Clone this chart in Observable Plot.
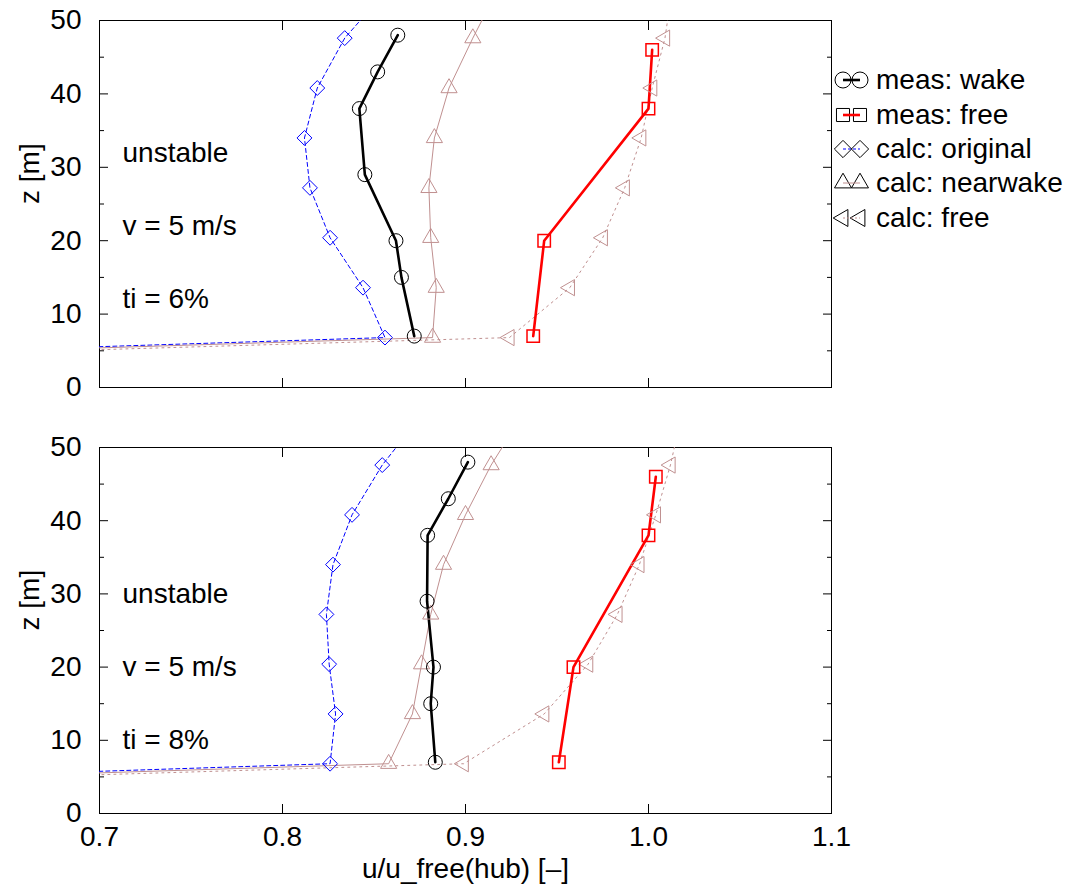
<!DOCTYPE html>
<html><head><meta charset="utf-8">
<script src="https://cdn.jsdelivr.net/npm/d3@7"></script>
<script src="https://cdn.jsdelivr.net/npm/@observablehq/plot@0.6"></script>
<style>
body{margin:0;background:#fff;}
#wrap{position:relative;width:1068px;height:892px;background:#fff;font-family:"Liberation Sans",Arial,sans-serif;overflow:hidden}
#top,#bot{position:absolute;left:0;}
#top{top:0}#bot{top:420px}
#legend{position:absolute;left:832px;top:63px;font-size:28px;color:#000}
.row{height:34.4px;display:flex;align-items:center;white-space:nowrap}
.row svg{flex:none;margin-right:4px}
</style></head><body><div id="wrap"><div id="top"></div><div id="bot"></div><div id="legend"></div></div>
<script>
// ---- data ----
const calcZ = [0, 6.8, 13.6, 20.4, 27.2, 34.0, 40.8, 47.6, 54.4];
const measWakeZ = [7, 15, 20, 29, 38, 43, 48];
const measFreeZ = [7, 20, 38, 46];

// panel 1: ti = 6%
const wake6  = [0.872, 0.865, 0.862, 0.845, 0.842, 0.852, 0.863];
const free6  = [0.937, 0.943, 1.000, 1.002];
const orig6  = [0, 0.856, 0.844, 0.826, 0.815, 0.812, 0.819, 0.834, 0.858];
const near6  = [0, 0.882, 0.884, 0.881, 0.880, 0.883, 0.891, 0.904, 0.918];
const cfree6 = [0, 0.924, 0.957, 0.975, 0.987, 0.996, 1.002, 1.009, 1.013];
const notes6 = ["unstable", "v = 5 m/s", "ti = 6%"];
const notesZ6 = [32, 22, 12];

// panel 2: ti = 8%
const wake8  = [0.8835, 0.881, 0.8825, 0.879, 0.8793, 0.8906, 0.9013];
const free8  = [0.951, 0.959, 1.000, 1.004];
const orig8  = [0, 0.826, 0.829, 0.8255, 0.824, 0.8276, 0.838, 0.8545, 0.876];
const near8  = [0, 0.858, 0.871, 0.876, 0.881, 0.888, 0.900, 0.914, 0.931];
const cfree8 = [0, 0.899, 0.943, 0.967, 0.983, 0.995, 1.004, 1.012, 1.018];
const notes8 = ["unstable", "v = 5 m/s", "ti = 8%"];
const notesZ8 = [30, 20, 10];

const xTicks = [0.7, 0.8, 0.9, 1.0, 1.1];
const yMajor = [0, 10, 20, 30, 40, 50];
const yMinor = [5, 15, 25, 35, 45];
const seriesNames = ["meas: wake", "meas: free", "calc: original", "calc: nearwake", "calc: free"];
const xLabel = "u/u_free(hub) [–]";
const yLabel = "z [m]";

// ---- styles ----
const BROWN = "#c09090";
const FONT = "Liberation Sans, Arial, sans-serif";

function rows(zs, xs) { return zs.map((z, i) => ({z, u: xs[i]})); }

function panel({wake, free, orig, near, cfree, notes, notesZ, showX, height, marginTop, marginBottom}) {
  const W = rows(measWakeZ, wake), F = rows(measFreeZ, free);
  const O = rows(calcZ, orig), N = rows(calcZ, near), C = rows(calcZ, cfree);
  const tickOnly = {fill: "none", label: null, stroke: "#000"};
  const marks = [
    Plot.axisY({...tickOnly, anchor: "left", ticks: yMajor, tickSize: -9}),
    Plot.axisY({...tickOnly, anchor: "left", ticks: yMinor, tickSize: -5}),
    Plot.axisY({...tickOnly, anchor: "right", ticks: yMajor, tickSize: -9}),
    Plot.axisY({...tickOnly, anchor: "right", ticks: yMinor, tickSize: -5}),
    Plot.axisX({...tickOnly, anchor: "bottom", ticks: xTicks, tickSize: -9}),
    Plot.axisX({...tickOnly, anchor: "top", ticks: xTicks, tickSize: -9}),
    Plot.axisY({anchor: "left", ticks: yMajor, tickSize: 0, tickPadding: 18, label: null, fill: "#000"}),
    Plot.frame({stroke: "#000", strokeWidth: 1}),
    Plot.text([yLabel], {frameAnchor: "left", text: d => d, rotate: -90, dx: -69, fill: "#000"}),
    Plot.text(notes.map((t, i) => ({t, z: notesZ[i]})), {y: "z", text: "t", frameAnchor: "left", dx: 23, textAnchor: "start", fill: "#000"}),
    // lines
    Plot.line(O, {x: "u", y: "z", stroke: "#0000ff", strokeWidth: 1, strokeDasharray: "4,3", clip: true}),
    Plot.line(C, {x: "u", y: "z", stroke: BROWN, strokeWidth: 1, strokeDasharray: "2,4", clip: true}),
    Plot.line(N, {x: "u", y: "z", stroke: BROWN, strokeWidth: 1, clip: true}),
    Plot.line(W, {x: "u", y: "z", stroke: "#000", strokeWidth: 2.6, clip: true}),
    Plot.line(F, {x: "u", y: "z", stroke: "#ff0000", strokeWidth: 2.6, clip: true}),
    // markers
    Plot.dot(O, {x: "u", y: "z", symbol: "diamond2", r: 6.7, stroke: "#0000ff", fill: "none", strokeWidth: 1, clip: true}),
    Plot.dot(N, {x: "u", y: "z", symbol: "triangle", r: 6, stroke: BROWN, fill: "none", strokeWidth: 1, clip: true}),
    Plot.dot(C, {x: "u", y: "z", symbol: "triangle", rotate: -90, r: 6, stroke: BROWN, fill: "none", strokeWidth: 1, clip: true}),
    Plot.dot(W, {x: "u", y: "z", symbol: "circle", r: 7, stroke: "#000", fill: "none", strokeWidth: 1, clip: true}),
    Plot.dot(F, {x: "u", y: "z", symbol: "square", r: 7, stroke: "#ff0000", fill: "none", strokeWidth: 1.5, clip: true})
  ];
  if (showX) {
    marks.push(Plot.axisX({anchor: "bottom", ticks: xTicks, tickSize: 0, tickPadding: 13, tickFormat: d3.format(".1f"), label: null, fill: "#000"}));
    marks.push(Plot.text([xLabel], {frameAnchor: "bottom", text: d => d, dy: 56, lineAnchor: "middle", fill: "#000"}));
  }
  return Plot.plot({
    width: 1068, height, marginTop, marginBottom, marginLeft: 99, marginRight: 237,
    style: {fontFamily: FONT, fontSize: "28px", background: "transparent", overflow: "visible", color: "#000"},
    x: {domain: [0.7, 1.1]},
    y: {domain: [0, 50]},
    marks
  });
}

document.getElementById("top").appendChild(panel({wake: wake6, free: free6, orig: orig6, near: near6, cfree: cfree6, notes: notes6, notesZ: notesZ6, showX: false, height: 420, marginTop: 20, marginBottom: 33}));
document.getElementById("bot").appendChild(panel({wake: wake8, free: free8, orig: orig8, near: near8, cfree: cfree8, notes: notes8, notesZ: notesZ8, showX: true, height: 472, marginTop: 27, marginBottom: 79}));

// ---- legend ----
const legendStyles = [
  {color: "#000", lw: 2.6, dash: null, sym: d3.symbolCircle, size: Math.PI * 64, rot: 0},
  {color: "#ff0000", lw: 2.6, dash: null, sym: d3.symbolSquare, size: 170, rot: 0},
  {color: "#0000ff", lw: 1, dash: "3,2", sym: d3.symbolDiamond2, size: 190, rot: 0},
  {color: BROWN, lw: 1, dash: null, sym: d3.symbolTriangle, size: 125, rot: 0},
  {color: BROWN, lw: 1, dash: "2,2", sym: d3.symbolTriangle, size: 125, rot: -90}
];
const leg = d3.select("#legend");
seriesNames.forEach((name, i) => {
  const s = legendStyles[i];
  const row = leg.append("div").attr("class", "row");
  const svg = row.append("svg").attr("width", 40).attr("height", 24);
  const cx = [11, 28];
  cx.forEach(x => svg.append("path").attr("d", d3.symbol(s.sym, s.size)())
    .attr("transform", `translate(${x},12) rotate(${s.rot})`)
    .attr("fill", "none").attr("stroke", "#000").attr("stroke-width", 1));
  svg.append("line").attr("x1", cx[0]).attr("x2", cx[1]).attr("y1", 12).attr("y2", 12)
    .attr("stroke", s.color).attr("stroke-width", s.lw).attr("stroke-dasharray", s.dash);
  row.append("span").text(name);
});
</script></body></html>
